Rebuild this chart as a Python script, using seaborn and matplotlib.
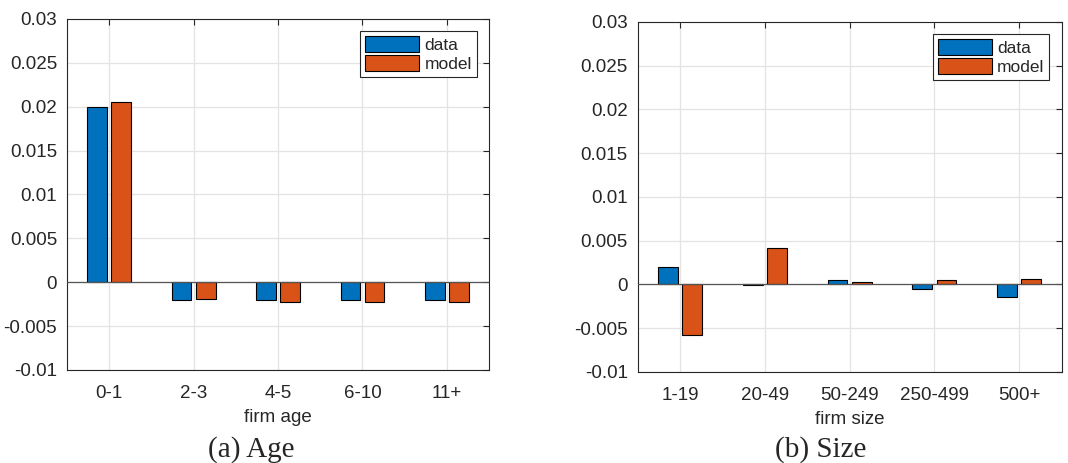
import pandas as pd
import matplotlib.pyplot as plt
import seaborn as sns

# values
age_groups = ['0-1', '2-3', '4-5', '6-10', '11+']
age_data = [0.0200, -0.0020, -0.0020, -0.0020, -0.0020]
age_model = [0.0205, -0.0019, -0.00225, -0.00225, -0.00225]

size_groups = ['1-19', '20-49', '50-249', '250-499', '500+']
size_data = [0.0020, -0.0001, 0.0005, -0.0005, -0.0015]
size_model = [-0.0058, 0.0042, 0.00025, 0.00045, 0.0006]

series_names = ['data', 'model']
colors = ['#0072BD', '#D95319']
yticks = [-0.01, -0.005, 0, 0.005, 0.01, 0.015, 0.02, 0.025, 0.03]
ytick_labels = ['-0.01', '-0.005', '0', '0.005', '0.01', '0.015', '0.02', '0.025', '0.03']


def long_frame(groups, data, model):
    return pd.DataFrame({
        'group': groups * 2,
        'series': [series_names[0]] * len(groups) + [series_names[1]] * len(groups),
        'value': list(data) + list(model),
    })


sns.set_style('white')
plt.rcParams['font.family'] = ['Liberation Sans', 'DejaVu Sans']

fig = plt.figure(figsize=(10.68, 4.63), dpi=100)
ax1 = fig.add_axes([0.0627, 0.201, 0.3953, 0.758])
ax2 = fig.add_axes([0.597, 0.197, 0.397, 0.756])

panels = [
    (ax1, long_frame(age_groups, age_data, age_model), 'firm age', '(a) Age', 0.235),
    (ax2, long_frame(size_groups, size_data, size_model), 'firm size', '(b) Size', 0.768),
]

axis_col = '#262626'
for ax, df, xlab, caption, cx in panels:
    sns.barplot(data=df, x='group', y='value', hue='series', palette=colors,
                saturation=1, width=0.57, gap=0.18, edgecolor='black',
                linewidth=0.8, errorbar=None, ax=ax, zorder=3)
    ax.axhline(0, color='#555555', lw=0.9, zorder=4)
    ax.set_xlim(-0.5, 4.5)
    ax.set_ylim(-0.01, 0.03)
    ax.set_yticks(yticks)
    ax.set_yticklabels(ytick_labels)
    ax.set_xlabel(xlab, fontsize=13.5, color=axis_col, labelpad=5)
    ax.set_ylabel('')
    ax.grid(True, color='#e3e3e3', lw=0.9, zorder=0)
    ax.set_axisbelow(True)
    ax.tick_params(direction='in', top=True, right=True, length=4, width=0.8,
                   labelsize=13.5, colors=axis_col)
    ax.tick_params(axis='x', pad=11)
    ax.tick_params(axis='y', pad=7)
    for s in ax.spines.values():
        s.set_color(axis_col)
        s.set_linewidth(0.8)
    handles, labels = ax.get_legend_handles_labels()
    leg = ax.legend(handles, labels, loc='upper right', fontsize=12.5,
                    frameon=True, fancybox=False, edgecolor=axis_col,
                    framealpha=1, handlelength=3.1, handleheight=1.05,
                    handletextpad=0.3, borderaxespad=0.7, borderpad=0.3,
                    labelspacing=0.1)
    leg.get_frame().set_linewidth(0.8)
    fig.text(cx, 0.03, caption, ha='center', va='center', fontsize=21,
             family=['Liberation Serif', 'DejaVu Serif'])

fig.savefig('out.png', dpi=100)
plt.close(fig)
